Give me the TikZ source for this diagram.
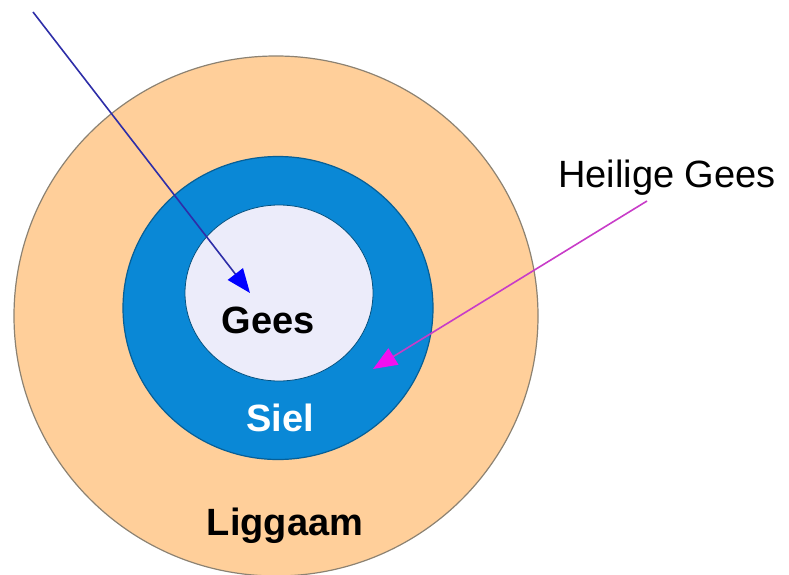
\documentclass[tikz,border=0pt]{standalone}
\usepackage{fontspec}
\setmainfont{Liberation Sans}
\usetikzlibrary{arrows.meta,positioning,shapes.geometric}
\definecolor{Peach}{HTML}{FFCF9A}
\definecolor{SoulBlue}{HTML}{0A88D6}
\definecolor{Lavender}{HTML}{ECECFA}
\definecolor{RimGray}{HTML}{8C8272}
\definecolor{NavyLine}{HTML}{2E2EA8}
\definecolor{Magenta}{HTML}{F010F0}
\definecolor{PlumLine}{HTML}{C83CC8}

\begin{document}
\begin{tikzpicture}[
    x=1pt, y=-1pt,
    ring/.style={ellipse, draw=RimGray, line width=1.2pt, inner sep=0pt},
    word/.style={font=\fontsize{38}{40}\selectfont\bfseries, inner sep=0pt, anchor=base},
    arr/.style={-{Triangle[length=24pt,width=19pt,color=#1]}, line width=1.6pt}
]
\useasboundingbox (0,0) rectangle (789,575);

% drie ringe
\node[ring, fill=Peach, minimum width=524pt, minimum height=520pt] (liggaam) at (276,316) {};
\node[ring, fill=SoulBlue, draw=SoulBlue!70!black, minimum width=310pt, minimum height=303pt] (siel) at (278,308) {};
\node[ring, fill=Lavender, draw=SoulBlue!60!black, line width=0.8pt, minimum width=188pt, minimum height=176pt] (gees) at (279,293) {};

\node[word] (geestxt) at (268,333) {Gees};
\node[word, text=white] (sieltxt) at (280,431) {Siel};
\node[word] (liggaamtxt) at (285,535) {Liggaam};
\node[font=\fontsize{38}{40}\selectfont, inner sep=0pt, anchor=base west] (hg) at (558,187) {Heilige Gees};

\coordinate (topstart) at (33,12);
\coordinate (geespt) at (250,293);
\coordinate (hgfoot) at (647,201);
\coordinate (sielpt) at (373,369);

\draw[arr=blue, draw=NavyLine] (topstart) -- (geespt);
\draw[arr=Magenta, draw=PlumLine] (hgfoot) -- (sielpt);
\end{tikzpicture}
\end{document}
